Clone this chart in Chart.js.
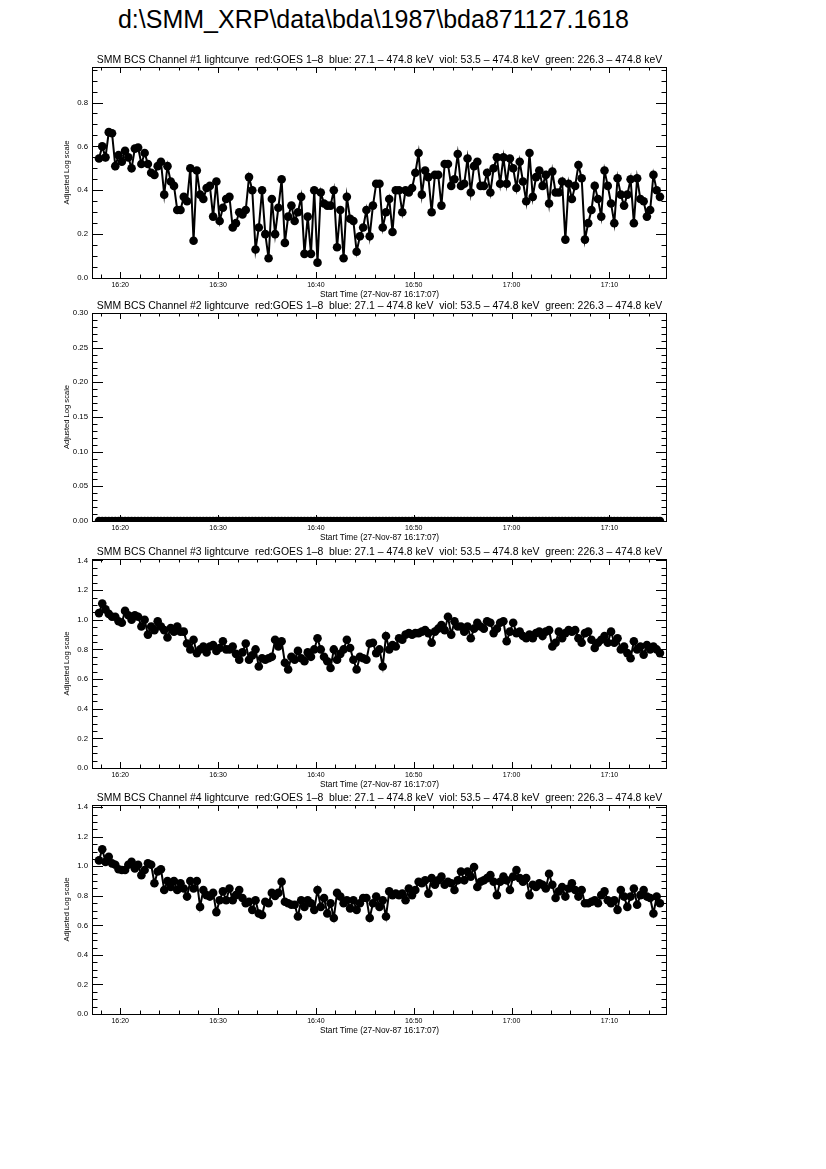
<!DOCTYPE html>
<html lang="en">
<head>
<meta charset="UTF-8">
<title>bda871127.1618</title>
<script src="https://cdn.jsdelivr.net/npm/chart.js@4.4.0/dist/chart.umd.min.js"></script>
<style>
    body { margin: 0; background: #fff; width: 826px; height: 1169px; position: relative; overflow: hidden;
           font-family: 'Liberation Sans', Arial, sans-serif; }
    #page-title { position: absolute; left: 0; width: 747px; top: 5px; text-align: center; font-size: 25px; color: #000; }
    canvas.panel { position: absolute; left: 0; }
</style>
</head>
<body>

<div id="page-title">d:\SMM_XRP\data\bda\1987\bda871127.1618</div>

<script>
    // time axis, minutes after 16:00
    const xStart = 17 + 7 / 60;       // 16:17:07
    const xEnd = 75 + 53 / 60;        // 17:15:53
    const firstSample = 17.83;
    const cadence = 1 / 3;            // 20 s bins
    const timeTicks = [20, 30, 40, 50, 60, 70];
    const timeLabels = ['16:20', '16:30', '16:40', '16:50', '17:00', '17:10'];
    const xMinorStep = 2;
    const startLabel = 'Start Time (27-Nov-87 16:17:07)';

    const ch1 = [
        0.545,0.60,0.55,0.665,0.66,0.51,0.56,0.53,0.58,0.55,
        0.50,0.59,0.595,0.52,0.57,0.52,0.48,0.47,0.51,0.53,
        0.38,0.51,0.44,0.42,0.31,0.31,0.37,0.35,0.50,0.17,
        0.49,0.38,0.36,0.41,0.42,0.28,0.44,0.26,0.32,0.36,
        0.37,0.23,0.25,0.30,0.29,0.31,0.46,0.40,0.13,0.23,
        0.40,0.20,0.09,0.36,0.20,0.32,0.45,0.16,0.28,0.33,
        0.26,0.30,0.37,0.11,0.28,0.11,0.40,0.07,0.39,0.34,
        0.33,0.33,0.40,0.14,0.31,0.09,0.37,0.27,0.26,0.12,
        0.19,0.23,0.31,0.19,0.33,0.43,0.43,0.23,0.30,0.36,
        0.21,0.40,0.40,0.30,0.40,0.39,0.41,0.48,0.57,0.38,
        0.49,0.46,0.30,0.47,0.47,0.33,0.52,0.52,0.42,0.45,
        0.565,0.42,0.43,0.545,0.39,0.51,0.53,0.42,0.42,0.48,
        0.39,0.50,0.55,0.43,0.55,0.43,0.545,0.50,0.41,0.53,
        0.44,0.35,0.57,0.37,0.46,0.49,0.42,0.47,0.34,0.485,
        0.39,0.39,0.44,0.175,0.43,0.36,0.42,0.515,0.455,0.175,
        0.25,0.31,0.42,0.36,0.28,0.49,0.42,0.34,0.25,0.455,
        0.38,0.33,0.38,0.45,0.25,0.455,0.36,0.35,0.28,0.31,
        0.47,0.40,0.37
    ];
    const ch2 = [
        0,0,0,0,0,0,0,0,0,0,0,0,0,0,0,0,0,0,0,0,
        0,0,0,0,0,0,0,0,0,0,0,0,0,0,0,0,0,0,0,0,
        0,0,0,0,0,0,0,0,0,0,0,0,0,0,0,0,0,0,0,0,
        0,0,0,0,0,0,0,0,0,0,0,0,0,0,0,0,0,0,0,0,
        0,0,0,0,0,0,0,0,0,0,0,0,0,0,0,0,0,0,0,0,
        0,0,0,0,0,0,0,0,0,0,0,0,0,0,0,0,0,0,0,0,
        0,0,0,0,0,0,0,0,0,0,0,0,0,0,0,0,0,0,0,0,
        0,0,0,0,0,0,0,0,0,0,0,0,0,0,0,0,0,0,0,0,
        0,0,0,0,0,0,0,0,0,0,0,0,0
    ];
    const ch3 = [
        1.045,1.11,1.07,1.04,1.02,1.02,0.99,0.98,1.06,1.03,
        1.00,1.03,1.02,0.955,1.00,0.90,0.955,0.93,0.99,0.955,
        0.93,0.88,0.945,0.92,0.955,0.92,0.92,0.84,0.80,0.865,
        0.775,0.80,0.82,0.78,0.82,0.83,0.79,0.81,0.855,0.80,
        0.80,0.82,0.77,0.73,0.78,0.84,0.73,0.76,0.80,0.685,
        0.74,0.73,0.74,0.75,0.865,0.82,0.855,0.71,0.665,0.75,
        0.73,0.79,0.74,0.72,0.78,0.75,0.80,0.875,0.80,0.75,
        0.72,0.675,0.80,0.73,0.77,0.80,0.865,0.81,0.73,0.665,
        0.75,0.74,0.73,0.84,0.845,0.775,0.80,0.685,0.89,0.80,
        0.83,0.82,0.875,0.865,0.90,0.91,0.90,0.91,0.91,0.92,
        0.93,0.91,0.845,0.92,0.94,0.965,0.93,1.02,0.90,0.99,
        0.955,0.955,0.92,0.955,0.875,0.94,0.98,0.955,0.94,0.99,
        0.98,0.91,0.94,0.98,0.99,0.855,0.92,0.98,0.91,0.92,
        0.89,0.875,0.90,0.875,0.91,0.92,0.89,0.92,0.93,0.82,
        0.845,0.92,0.875,0.91,0.93,0.92,0.93,0.875,0.845,0.91,
        0.92,0.865,0.81,0.845,0.865,0.89,0.845,0.92,0.845,0.875,
        0.80,0.82,0.775,0.74,0.855,0.80,0.82,0.765,0.83,0.80,
        0.82,0.80,0.775
    ];
    const ch4 = [
        1.04,1.115,1.03,1.065,1.02,1.01,0.98,0.975,0.975,1.01,
        1.03,0.985,1.01,0.94,0.975,1.02,1.01,0.885,0.965,0.98,
        0.84,0.90,0.86,0.90,0.84,0.885,0.85,0.795,0.90,0.85,
        0.90,0.725,0.84,0.805,0.795,0.82,0.69,0.77,0.83,0.77,
        0.85,0.77,0.805,0.84,0.785,0.75,0.76,0.705,0.77,0.68,
        0.67,0.76,0.75,0.82,0.80,0.82,0.895,0.76,0.75,0.74,
        0.74,0.66,0.77,0.725,0.77,0.75,0.705,0.84,0.725,0.785,
        0.68,0.75,0.65,0.82,0.795,0.75,0.77,0.715,0.77,0.705,
        0.75,0.785,0.785,0.65,0.75,0.795,0.725,0.77,0.66,0.83,
        0.805,0.815,0.805,0.815,0.77,0.85,0.805,0.84,0.895,0.885,
        0.905,0.815,0.92,0.875,0.905,0.93,0.875,0.895,0.885,0.84,
        0.905,0.965,0.905,0.965,0.93,0.995,0.86,0.895,0.905,0.92,
        0.94,0.895,0.805,0.895,0.93,0.905,0.84,0.93,0.975,0.92,
        0.895,0.92,0.805,0.875,0.86,0.885,0.875,0.85,0.95,0.875,
        0.785,0.83,0.86,0.795,0.85,0.885,0.84,0.795,0.84,0.75,
        0.75,0.76,0.77,0.75,0.805,0.83,0.77,0.75,0.77,0.705,
        0.84,0.795,0.725,0.795,0.85,0.74,0.805,0.84,0.795,0.785,
        0.68,0.795,0.75
    ];

    const yLabelsA = ['0.0', '0.2', '0.4', '0.6', '0.8'];
    const yLabelsB = ['0.00', '0.05', '0.10', '0.15', '0.20', '0.25', '0.30'];
    const yLabelsC = ['0.0', '0.2', '0.4', '0.6', '0.8', '1.0', '1.2', '1.4'];

    const titleTail = '  red:GOES 1\u20138  blue: 27.1 \u2013 474.8 keV  viol: 53.5 \u2013 474.8 keV  green: 226.3 \u2013 474.8 keV';

    const panels = [
        { ch: 1, values: ch1, yLabels: yLabelsA, yMax: 0.962, yMinor: 0.05, top: 67, bottom: 278 },
        { ch: 2, values: ch2, yLabels: yLabelsB, yMax: 0.30, yMinor: 0.01, top: 313, bottom: 521 },
        { ch: 3, values: ch3, yLabels: yLabelsC, yMax: 1.41, yMinor: 0.05, top: 559, bottom: 768 },
        { ch: 4, values: ch4, yLabels: yLabelsC, yMax: 1.415, yMinor: 0.05, top: 805, bottom: 1014 }
    ];

    const plotLeft = 92, plotRight = 667;
    const yAxisW = 30;
    const padTop = 22;
    const canvasH = 262;
    const fontFamily = "'Liberation Sans', Arial, sans-serif";

    // IDL style frame: box, inward ticks on all four sides, titles
    const idlFrame = {
        id: 'idlFrame',
        afterDraw(chart, args, opts) {
            const { ctx, chartArea: a, scales: { x, y } } = chart;
            ctx.save();
            ctx.strokeStyle = '#000';
            ctx.lineWidth = 1;
            ctx.strokeRect(a.left + 0.5, a.top + 0.5, a.right - a.left - 1, a.bottom - a.top);
            ctx.beginPath();
            x.ticks.forEach(t => {
                const px = Math.round(x.getPixelForValue(t.value)) + 0.5;
                const len = t.label ? 6 : 3.5;
                ctx.moveTo(px, a.bottom); ctx.lineTo(px, a.bottom - len);
                ctx.moveTo(px, a.top); ctx.lineTo(px, a.top + len);
            });
            y.ticks.forEach(t => {
                const py = Math.round(y.getPixelForValue(t.value)) + 0.5;
                const len = t.label ? 11 : 5.5;
                ctx.moveTo(a.left, py); ctx.lineTo(a.left + len, py);
                ctx.moveTo(a.right, py); ctx.lineTo(a.right - len, py);
            });
            ctx.stroke();

            ctx.fillStyle = '#000';
            ctx.textAlign = 'center';
            ctx.textBaseline = 'alphabetic';
            const cx = (a.left + a.right) / 2;

            // panel title, fitted to the plot width
            ctx.font = '10px ' + fontFamily;
            const w = ctx.measureText(opts.title).width;
            ctx.font = (10 * 566 / w).toFixed(2) + 'px ' + fontFamily;
            ctx.fillText(opts.title, cx, a.top - 4);

            ctx.font = '8.3px ' + fontFamily;
            ctx.fillText(startLabel, cx, a.bottom + 19);

            ctx.translate(67, (a.top + a.bottom) / 2);
            ctx.rotate(-Math.PI / 2);
            ctx.textBaseline = 'middle';
            ctx.font = '7.6px ' + fontFamily;
            ctx.fillText('Adjusted Log scale', 0, 0);
            ctx.restore();
        }
    };

    function xTickValues() {
        const vals = [];
        for (let v = 18; v <= 75; v += xMinorStep) vals.push(v);
        return vals;
    }

    function yTickValues(p) {
        const vals = [];
        for (let k = 0; k * p.yMinor <= p.yMax + 1e-9; k++) vals.push(Math.round(k * p.yMinor * 1000) / 1000);
        return vals;
    }

    panels.forEach(p => {
        const canvas = document.createElement('canvas');
        canvas.className = 'panel';
        canvas.width = 826;
        canvas.height = canvasH;
        canvas.style.top = (p.top - padTop) + 'px';
        document.body.appendChild(canvas);

        const xAxisH = canvasH - padTop - (p.bottom - p.top);
        const points = p.values.map((v, i) => ({ x: firstSample + i * cadence, y: v }));

        new Chart(canvas, {
            type: 'line',
            data: {
                datasets: [{
                    data: points,
                    borderColor: '#000',
                    backgroundColor: '#000',
                    borderWidth: 2,
                    pointRadius: 4.3,
                    pointHoverRadius: 4.3,
                    pointBorderWidth: 0,
                    pointBackgroundColor: '#000',
                    tension: 0,
                    clip: 0
                }]
            },
            options: {
                responsive: false,
                animation: false,
                devicePixelRatio: 1,
                events: [],
                layout: { padding: { left: plotLeft - yAxisW, right: 826 - plotRight, top: padTop, bottom: 0 } },
                plugins: {
                    legend: { display: false },
                    tooltip: { enabled: false },
                    idlFrame: { title: 'SMM BCS Channel #' + p.ch + ' lightcurve' + titleTail }
                },
                scales: {
                    x: {
                        type: 'linear',
                        min: xStart,
                        max: xEnd,
                        afterFit: s => { s.height = xAxisH; },
                        afterBuildTicks: s => { s.ticks = xTickValues().map(v => ({ value: v })); },
                        grid: { display: false, drawTicks: false },
                        border: { display: false },
                        ticks: {
                            autoSkip: false,
                            maxRotation: 0,
                            padding: 3,
                            color: '#000',
                            font: { size: 7, family: fontFamily },
                            callback: v => {
                                const k = timeTicks.indexOf(v);
                                return k >= 0 ? timeLabels[k] : '';
                            }
                        }
                    },
                    y: {
                        type: 'linear',
                        min: 0,
                        max: p.yMax,
                        afterFit: s => { s.width = yAxisW; },
                        afterBuildTicks: s => { s.ticks = yTickValues(p).map(v => ({ value: v })); },
                        grid: { display: false, drawTicks: false },
                        border: { display: false },
                        ticks: {
                            autoSkip: false,
                            padding: 4,
                            color: '#000',
                            font: { size: 7.8, family: fontFamily },
                            callback: v => {
                                const lab = p.yLabels.find(l => Math.abs(parseFloat(l) - v) < 1e-6);
                                return lab || '';
                            }
                        }
                    }
                }
            },
            plugins: [idlFrame]
        });
    });
</script>

</body>
</html>
